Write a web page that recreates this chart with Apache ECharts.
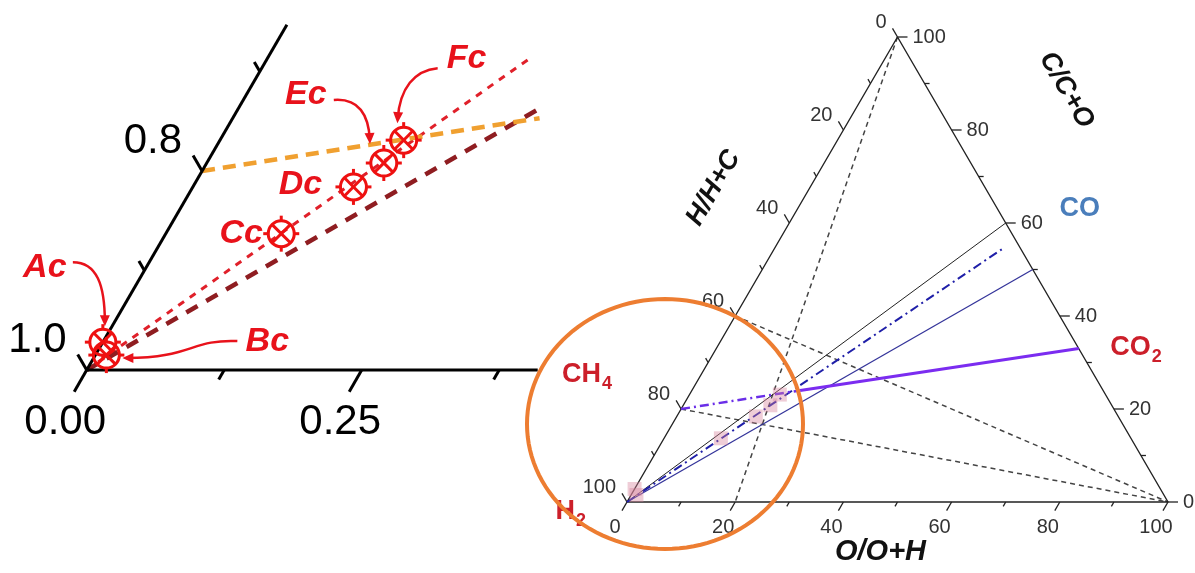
<!DOCTYPE html>
<html>
<head>
<meta charset="utf-8">
<title>Ternary C-H-O diagram</title>
<script src="https://cdn.jsdelivr.net/npm/echarts@6.0.0/dist/echarts.min.js"></script>
<style>
html,body{margin:0;padding:0;background:#ffffff;}
#chart{width:1195px;height:573px;}
</style>
</head>
<body>
<div id="chart"></div>
<script>
// ===== DATA (compositions as fractions: C share, O share; H = 1 - C - O) =====
const mainTickValues  = [0,10,20,30,40,50,60,70,80,90,100];
const mainTickLabels  = [0,20,40,60,80,100];
const insetLeftTicks    = [1.0,0.9,0.8,0.7];      // H/(H+C)
const insetLeftLabels   = ['1.0','0.8'];
const insetBottomTicks  = [0,0.125,0.25,0.375];   // O/(O+H)
const insetBottomLabels = ['0.00','0.25'];

const sampleNames = ['Ac','Bc','Cc','Dc','Ec','Fc'];
const sampleC     = [0.028,0.015,0.137,0.184,0.208,0.231];
const sampleO     = [0.000,0.010,0.105,0.146,0.161,0.167];

const speciesText = ['H','CH','CO','CO'];
const speciesSub  = ['2','4','','2'];
const speciesC    = [0,0.2,0.5,1/3];
const speciesO    = [0,0,0.5,2/3];

// main diagram lines: [[C,O] start, [C,O] end]
const guideDashed    = [ [[1,0],[0,0.2]], [[0.4,0],[0,1]], [[0.2,0],[0,1]] ];
const lineH2toC60    = [[0,0],[0.6,0.4]];
const lineH2dashDot  = [[0,0],[0.546,0.423]];
const lineH2toCO     = [[0,0],[0.5,0.5]];
const lineCH4dashDot = [[0.2,0],[0.24,0.2]];
const lineToCO2      = [[0.24,0.2],[0.33,0.67]];
// inset (magnified H corner) lines
const insetRedLine    = [[0,0],[0.315,0.240]];
const insetDarkLine   = [[0,0],[0.263,0.274]];
const insetOrangeLine = [[0.2,0],[0.253,0.279]];

// ===== helpers =====
const SQ3 = Math.sqrt(3)/2;
// projection of a composition onto the plane of each panel (inset drawing is slightly skewed)
const SKEW = [0.5, 0.5245];
function tern(C,O,g){ return [O + C*SKEW[g||0], C*SQ3]; }

const FONT = '"Liberation Sans", Arial, sans-serif';
const RED_LBL = '#e8121b';

function seg(pair, g, color, width, type, z){
  return {type:'line', xAxisIndex:g, yAxisIndex:g, data: pair.map(p=>tern(p[0],p[1],g)),
    symbol:'none', clip:false, silent:true, z: z||2,
    lineStyle:{color:color, width:width, type:type||'solid', cap:'butt'}};
}

// --- main ternary ticks & labels ---
const mainTickData = [];
[0,1,2].forEach(e=>mainTickValues.forEach(v=>mainTickData.push([e,v])));
function mainTickItem(params, api){
  const e = api.value(0), v = api.value(1);
  let C,O,dir;
  if(e===0){C=0;O=v/100;dir=[-0.5,0.866];}
  else if(e===1){C=1-v/100;O=0;dir=[-0.5,-0.866];}
  else {C=v/100;O=1-v/100;dir=[1,0];}
  const p = api.coord(tern(C,O,0));
  const major = mainTickLabels.indexOf(v)>=0;
  const len = major?10:5;
  const q = [p[0]+dir[0]*len, p[1]+dir[1]*len];
  const ch = [{type:'line', shape:{x1:p[0],y1:p[1],x2:q[0],y2:q[1]}, style:{stroke:'#222',lineWidth:1.3}}];
  if(major){
    let x,y,align;
    if(e===0){x=q[0]-7;y=q[1]+17;align='center';}
    else if(e===1){x=q[0]-6;y=q[1]-6;align='right';}
    else {x=q[0]+5;y=q[1];align='left';}
    ch.push({type:'text', x:x, y:y, style:{text:String(v), fill:'#333', font:'20px '+FONT, align:align, verticalAlign:'middle'}});
  }
  return {type:'group', children:ch};
}

// --- inset ticks & labels ---
const insetTickData = [];
insetBottomTicks.forEach((v,i)=>insetTickData.push([0,v,i]));
insetLeftTicks.forEach((v,i)=>insetTickData.push([1,v,i]));
function insetTickItem(params, api){
  const e = api.value(0), v = api.value(1), i = api.value(2);
  let C,O,dir,lab;
  if(e===0){C=0;O=v;dir=[-0.5,0.866];lab=insetBottomLabels[i/2];}
  else {C=1-v;O=0;dir=[-0.5,-0.866];lab=insetLeftLabels[i/2];}
  const p = api.coord(tern(C,O,1));
  const major = (i%2===0);
  const len = major ? (e===0?25:18) : 11;
  const q = [p[0]+dir[0]*len, p[1]+dir[1]*len];
  const ch = [{type:'line', shape:{x1:p[0],y1:p[1],x2:q[0],y2:q[1]}, style:{stroke:'#000',lineWidth:3}}];
  if(major && lab){
    if(e===0) ch.push({type:'text', x:q[0]-9, y:q[1]+31, style:{text:lab, fill:'#000', font:'42px '+FONT, align:'center', verticalAlign:'middle'}});
    else ch.push({type:'text', x:q[0]-11, y:q[1]-14, style:{text:lab, fill:'#000', font:'42px '+FONT, align:'right', verticalAlign:'middle'}});
  }
  return {type:'group', children:ch};
}

// --- inset sample markers (circled X) with callout labels ---
const labelOffsets = {Ac:[-58,-75], Bc:[161,-13], Cc:[-40,0], Dc:[-53,-2], Ec:[-78,-68], Fc:[63,-82]};
const arrowShapes = {
  Ac:[[-30,-80],[-6,-80],[2,-57],[2,-20]],
  Bc:[[131,-14],[85,-16],[85,3],[20,3]],
  Ec:[[-50,-63],[-25,-65],[-15,-48],[-14,-23]],
  Fc:[[34,-72],[11,-70],[-4,-52],[-6,-21]]
};
function markerItem(params, api){
  const i = params.dataIndex, name = sampleNames[i];
  const p = api.coord(tern(sampleC[i], sampleO[i], 1));
  const col = '#ee1111', r = 13, d = r*0.7, lw = 3;
  const ch = [];
  ch.push({type:'circle', shape:{cx:p[0],cy:p[1],r:r}, style:{fill:'none',stroke:col,lineWidth:lw}});
  ch.push({type:'line', shape:{x1:p[0]-d,y1:p[1]-d,x2:p[0]+d,y2:p[1]+d}, style:{stroke:col,lineWidth:lw}});
  ch.push({type:'line', shape:{x1:p[0]-d,y1:p[1]+d,x2:p[0]+d,y2:p[1]-d}, style:{stroke:col,lineWidth:lw}});
  [[1,0],[-1,0],[0,1],[0,-1]].forEach(([dx,dy])=>{
    ch.push({type:'line', shape:{x1:p[0]+dx*(r-1),y1:p[1]+dy*(r-1),x2:p[0]+dx*(r+5),y2:p[1]+dy*(r+5)}, style:{stroke:col,lineWidth:lw}});
  });
  const lo = labelOffsets[name];
  ch.push({type:'text', x:p[0]+lo[0], y:p[1]+lo[1], z2:5, style:{text:name, fill:RED_LBL, font:'italic bold 34px '+FONT, align:'center', verticalAlign:'middle'}});
  const a = arrowShapes[name];
  if(a){
    const P = a.map(o=>[p[0]+o[0], p[1]+o[1]]);
    ch.push({type:'bezierCurve', shape:{x1:P[0][0],y1:P[0][1],cpx1:P[1][0],cpy1:P[1][1],cpx2:P[2][0],cpy2:P[2][1],x2:P[3][0],y2:P[3][1]}, style:{stroke:RED_LBL,lineWidth:2.5,fill:'none'}});
    let tx = P[3][0]-P[2][0], ty = P[3][1]-P[2][1];
    const n = Math.hypot(tx,ty); tx/=n; ty/=n;
    const L = 11, W = 5;
    const tip = [P[3][0]+tx*4, P[3][1]+ty*4];
    const base = [tip[0]-tx*L, tip[1]-ty*L];
    ch.push({type:'polygon', shape:{points:[tip,[base[0]-ty*W, base[1]+tx*W],[base[0]+ty*W, base[1]-tx*W]]}, style:{fill:RED_LBL}});
  }
  return {type:'group', children:ch};
}

// --- main annotations: axis titles, species labels, highlight ellipse ---
function annotItem(params, api){
  const Hp = api.coord(tern(0,0,0)), Cp = api.coord(tern(1,0,0)), Op = api.coord(tern(0,1,0));
  const ch = [];
  ch.push({type:'text', x:Cp[0]-184, y:Cp[1]+151, rotation:Math.PI/3, style:{text:'H/H+C', fill:'#111', font:'italic bold 27px '+FONT, align:'center', verticalAlign:'middle'}});
  ch.push({type:'text', x:Cp[0]+169, y:Cp[1]+53, rotation:-Math.PI/3, style:{text:'C/C+O', fill:'#111', font:'italic bold 27px '+FONT, align:'center', verticalAlign:'middle'}});
  ch.push({type:'text', x:(Hp[0]+Op[0])/2-17, y:Hp[1]+50, style:{text:'O/O+H', fill:'#111', font:'italic bold 29px '+FONT, align:'center', verticalAlign:'middle'}});
  const offs = [[-52,10],[-80,-34],[47,-61],[73,1]];
  speciesText.forEach((t,i)=>{
    const p = api.coord(tern(speciesC[i], speciesO[i], 0));
    const col = (t==='CO' && !speciesSub[i]) ? '#4a7ebb' : '#cc1f2a';
    const x = p[0]+offs[i][0], y = p[1]+offs[i][1];
    if(speciesSub[i]){
      ch.push({type:'text', x:x, y:y, style:{text:t, fill:col, font:'bold 27px '+FONT, align:'right', verticalAlign:'middle'}});
      ch.push({type:'text', x:x+1, y:y+9, style:{text:speciesSub[i], fill:col, font:'bold 18px '+FONT, align:'left', verticalAlign:'middle'}});
    } else {
      ch.push({type:'text', x:x, y:y, style:{text:t, fill:col, font:'bold 27px '+FONT, align:'center', verticalAlign:'middle'}});
    }
  });
  // highlight ellipse around the H-rich corner
  const cx = Hp[0]+38, cy = Hp[1]-78, rx = 138, ry = 125, pts = [];
  for(let k=0;k<120;k++){ const t = k/120*2*Math.PI; pts.push([cx+rx*Math.cos(t), cy+ry*Math.sin(t)]); }
  ch.push({type:'polygon', shape:{points:pts}, style:{fill:'none', stroke:'#ed7d31', lineWidth:4}});
  return {type:'group', children:ch};
}

const series = [];
// main triangle
series.push(seg([[0,0],[0,1],[1,0],[0,0]], 0, '#222', 1.4, 'solid', 3));
guideDashed.forEach(l=>series.push(seg(l, 0, '#444', 1.5, [5,4], 2)));
series.push(seg(lineH2toC60, 0, '#222', 1, 'solid', 3));
series.push(seg(lineH2toCO, 0, '#34349a', 1.3, 'solid', 3));
series.push(seg(lineH2dashDot, 0, '#1f1fa8', 2, [9,4,2,4], 4));
series.push(seg(lineCH4dashDot, 0, '#6a2ee8', 2.5, [9,4,2,4], 4));
series.push(seg(lineToCO2, 0, '#7b2cf0', 3, 'solid', 4));
series.push({type:'scatter', xAxisIndex:0, yAxisIndex:0, symbol:'rect', symbolSize:14, silent:true, z:5,
  itemStyle:{color:'rgba(215,130,155,0.5)'}, data: sampleC.map((c,i)=>tern(c, sampleO[i], 0))});
series.push({type:'custom', xAxisIndex:0, yAxisIndex:0, data:mainTickData, renderItem:mainTickItem, silent:true, z:3});
// inset
series.push(seg([[0,0],[0,0.41]], 1, '#000', 3, 'solid', 3));
series.push(seg([[0,0],[0.347,0]], 1, '#000', 3, 'solid', 3));
series.push(seg(insetRedLine, 1, '#e0202a', 3, [7,7], 2));
series.push(seg(insetDarkLine, 1, '#8f1d21', 4.5, [13,10], 2));
series.push(seg(insetOrangeLine, 1, '#f0a030', 4.5, [13,8], 2));
series.push({type:'custom', xAxisIndex:1, yAxisIndex:1, data:insetTickData, renderItem:insetTickItem, silent:true, z:3});
series.push({type:'custom', xAxisIndex:1, yAxisIndex:1, data:sampleNames.map((n,i)=>[i,0]), renderItem:markerItem, silent:true, z:6});
// annotations (top)
series.push({type:'custom', xAxisIndex:0, yAxisIndex:0, data:[[0,0]], renderItem:annotItem, silent:true, z:10});

const chart = echarts.init(document.getElementById('chart'), null, {renderer:'canvas'});
chart.setOption({
  animation:false,
  backgroundColor:'#ffffff',
  grid:[
    {left:627, top:37, width:541, height:465},
    {left:86.7, top:13.8, width:462, height:356.2}
  ],
  xAxis:[
    {type:'value', gridIndex:0, min:0, max:1, show:false},
    {type:'value', gridIndex:1, min:0, max:0.42, show:false}
  ],
  yAxis:[
    {type:'value', gridIndex:0, min:0, max:SQ3, show:false},
    {type:'value', gridIndex:1, min:0, max:0.31, show:false}
  ],
  series:series
});
</script>
</body>
</html>
